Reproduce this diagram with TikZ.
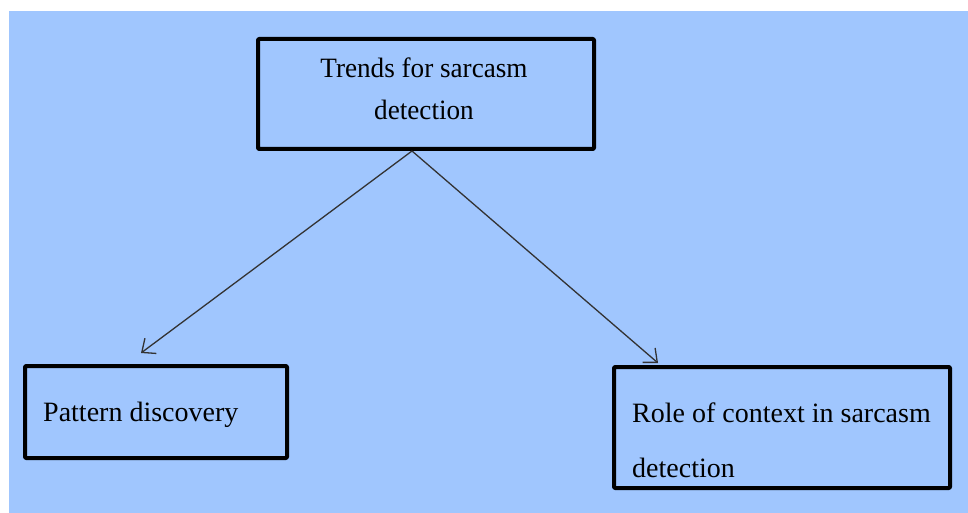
\documentclass[tikz,border=0pt]{standalone}
\usepackage{fontspec}
\setmainfont{Liberation Serif}
\usetikzlibrary{arrows.meta}
\definecolor{panel}{RGB}{160,198,254}
\begin{document}
\begin{tikzpicture}[x=1pt,y=-1pt,
  box/.style={draw=black,line width=4pt,line join=round,rounded corners=1pt,inner sep=0pt},
  lbl/.style={inner sep=0pt},
  link/.style={draw=black!80,line width=1.3pt,
    -{Straight Barb[length=11pt,width=19pt,line width=1.3pt]}}]
  \useasboundingbox (0,0) rectangle (968,513);
  \fill[panel] (9,11) rectangle (968,513);
  % boxes
  \node[box,minimum width=336pt,minimum height=110pt] (top) at (426,94) {};
  \node[box,minimum width=262pt,minimum height=92pt] (left) at (156,412) {};
  \node[box,minimum width=336pt,minimum height=121pt] (right) at (782,427.5) {};
  % labels
  \node[lbl,anchor=north,align=center,
        font=\fontsize{28}{42}\selectfont\addfontfeature{FakeStretch=0.97}] (toplbl) at (424,58)
    {Trends for sarcasm\\detection};
  \node[lbl,anchor=base west,font=\fontsize{28}{42}\selectfont] (leftlbl) at (43,421)
    {Pattern discovery};
  \node[lbl,anchor=north west,align=left,font=\fontsize{28}{55}\selectfont] (rightlbl) at (632,403)
    {Role of context in sarcasm\\detection};
  % connectors
  \coordinate (ltip) at (141,353);
  \coordinate (rtip) at (658,363);
  \draw[link] ([xshift=-14pt]top.south) -- (ltip);
  \draw[link] ([xshift=-14pt]top.south) -- (rtip);
\end{tikzpicture}
\end{document}
